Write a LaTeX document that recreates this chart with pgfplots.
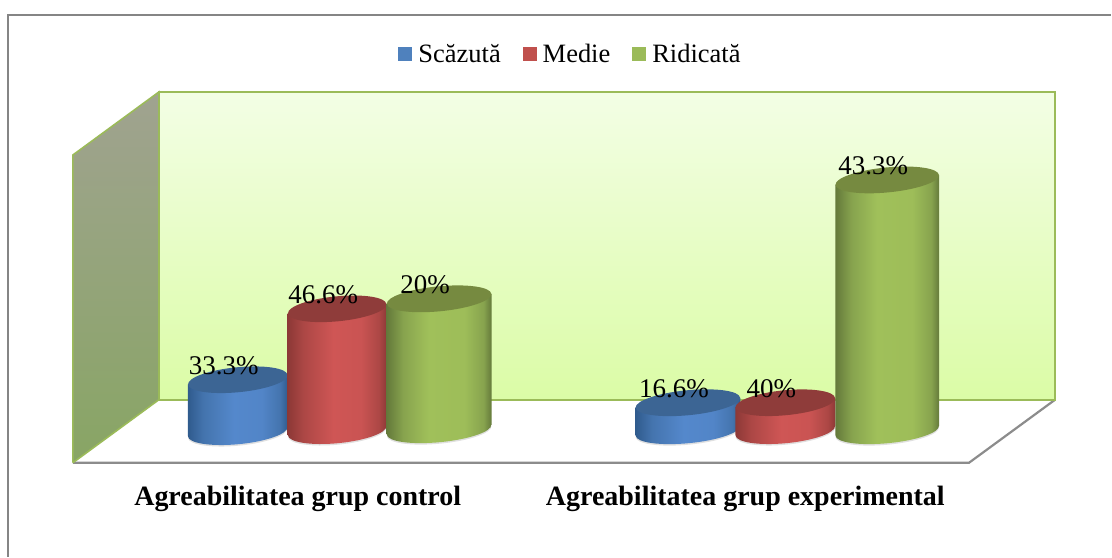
\documentclass[border=0pt]{standalone}
\usepackage{fontspec}
\setmainfont{Liberation Serif}
\usepackage{pgfplots}
\usepackage{pgfplotstable}
\pgfplotsset{compat=1.18}

\definecolor{cblue}{HTML}{4F81BD}
\definecolor{cred}{HTML}{C0504D}
\definecolor{cgreen}{HTML}{9BBB59}
\definecolor{bE}{HTML}{2F5A8C}\definecolor{bM}{HTML}{4474AE}\definecolor{bC}{HTML}{5488CC}
\definecolor{rE}{HTML}{8C3836}\definecolor{rM}{HTML}{AC4745}\definecolor{rC}{HTML}{CF5655}
\definecolor{gE}{HTML}{63783A}\definecolor{gM}{HTML}{87A34E}\definecolor{gC}{HTML}{A0C05A}
\definecolor{bT}{HTML}{3C6594}\definecolor{rT}{HTML}{8F3C3A}\definecolor{gT}{HTML}{768A40}

\pgfdeclarehorizontalshading{cylblue}{100bp}{color(0bp)=(bE);color(25bp)=(bE);color(33bp)=(bM);color(48bp)=(bC);color(62bp)=(bC!85!bM);color(71bp)=(bM);color(75bp)=(bE);color(100bp)=(bE)}
\pgfdeclarehorizontalshading{cylred}{100bp}{color(0bp)=(rE);color(25bp)=(rE);color(33bp)=(rM);color(48bp)=(rC);color(62bp)=(rC!85!rM);color(71bp)=(rM);color(75bp)=(rE);color(100bp)=(rE)}
\pgfdeclarehorizontalshading{cylgreen}{100bp}{color(0bp)=(gE);color(25bp)=(gE);color(33bp)=(gM);color(45bp)=(gC);color(62bp)=(gC!90!gM);color(71bp)=(gM);color(75bp)=(gE);color(100bp)=(gE)}

\pgfdeclareplotmark{nomark}{}

% x: centre, y: top centre, h: height of the cylinder, w: half width, val: label
\pgfplotstableread{
x      y    h    w    val
238    177  52   50   33.3
688.5  154  28   52.5 16.6
}\tblow
\pgfplotstableread{
x      y    h    w    val
337.5  248  122  49.5 46.6
786    154  28   50   40
}\tmed
\pgfplotstableread{
x      y    h    w    val
439.5  258  131  52.5 20
888    377  251  52   43.3
}\thigh

\newcommand{\cylinder}[2]{%
  \pgfmathsetmacro{\dd}{4.7*\cylw/52}%
  \fill[draw=none,black,opacity=.12] (0pt,{(-\cylh-1.5)*1pt}) circle[x radius=\cylw pt,y radius=12.5pt,rotate=5.5];%
  \path[draw=none,shade,shading=#1]
     ({-\cylw*1pt},{-\dd*1pt}) -- ({-\cylw*1pt},{(-\cylh-\dd)*1pt}) --
     ({\cylw*1pt},{(-\cylh+\dd)*1pt}) -- ({\cylw*1pt},{\dd*1pt}) -- cycle
     (0pt,{-\cylh*1pt}) circle[x radius=\cylw pt,y radius=12.5pt,rotate=5.5];%
  \fill[draw=none,#2] (0pt,0pt) circle[x radius=\cylw pt,y radius=12.5pt,rotate=5.5];%
}
\pgfplotsset{
  cyl/.style 2 args={
    scatter, only marks, mark=nomark, point meta=y, draw=none,
    visualization depends on={\thisrow{h}\as\cylh},
    visualization depends on={\thisrow{w}\as\cylw},
    scatter/@pre marker code/.code={\cylinder{#1}{#2}},
    scatter/@post marker code/.code={},
  },
  lab/.style={
    only marks, mark=nomark, forget plot, point meta=explicit symbolic,
    nodes near coords={\pgfplotspointmeta\%},
    every node near coord/.style={anchor=base,inner sep=0pt,xshift=-14pt,yshift=5pt,
      text=black,font=\fontsize{27}{30}\selectfont},
  },
}

\begin{document}
\begin{tikzpicture}
\begin{axis}[
  width=1112pt, height=557pt, scale only axis,
  xmin=0, xmax=1112, ymin=0, ymax=557, clip=false,
  axis line style={draw=none}, major tick length=0pt,
  ytick=\empty, xtick={298,746},
  xticklabels={Agreabilitatea grup control,Agreabilitatea grup experimental},
  x tick label style={font=\fontsize{28}{30}\bfseries, yshift=71pt, inner sep=0pt},
  legend style={at={(axis cs:571,503)},anchor=center,draw=none,fill=none,
    font=\fontsize{26.5}{30}\selectfont, legend columns=-1,inner sep=0pt,
    /tikz/every odd column/.append style={column sep=4pt},
    /tikz/every even column/.append style={column sep=20pt}},
]
% frame
\addplot[forget plot,color=black!48,line width=2pt,line join=miter] coordinates {(8,0)(8,542)(1112,542)};
% walls and floor
\addplot[forget plot,draw=none,fill=white] coordinates {(159,157)(1056,157)(970,94)(73,94)} --cycle;
\addplot[forget plot,color=black!45,line width=2.2pt] coordinates {(1056,157)(970,94)(73,94)};
\addplot[forget plot,draw=none,top color={rgb,255:red,243;green,254;blue,229},bottom color={rgb,255:red,219;green,252;blue,166}] coordinates {(159,465)(1056,465)(1056,157)(159,157)} --cycle;
\addplot[forget plot,color=cgreen,line width=1.6pt] coordinates {(159,157)(1056,157)(1056,465)(159,465)} --cycle;
\addplot[forget plot,draw=none,top color={rgb,255:red,160;green,163;blue,144},bottom color={rgb,255:red,136;green,165;blue,100}] coordinates {(73,402)(159,465)(159,157)(73,94)} --cycle;
\addplot[forget plot,color=cgreen,line width=1.6pt] coordinates {(73,94)(73,402)(159,465)(159,157)(73,94)};
% cylinders
\addplot[cyl={cylblue}{bT},legend image code/.code={\fill[cblue] (0pt,-7pt) rectangle (14pt,7pt);}] table {\tblow};
\addlegendentry{Scăzută}
\addplot[cyl={cylred}{rT},legend image code/.code={\fill[cred] (0pt,-7pt) rectangle (14pt,7pt);}] table {\tmed};
\addlegendentry{Medie}
\addplot[cyl={cylgreen}{gT},legend image code/.code={\fill[cgreen] (0pt,-7pt) rectangle (14pt,7pt);}] table {\thigh};
\addlegendentry{Ridicată}
% value labels
\addplot[lab] table[meta=val] {\tblow};
\addplot[lab] table[meta=val] {\tmed};
\addplot[lab] table[meta=val] {\thigh};
\end{axis}
\end{tikzpicture}
\end{document}
